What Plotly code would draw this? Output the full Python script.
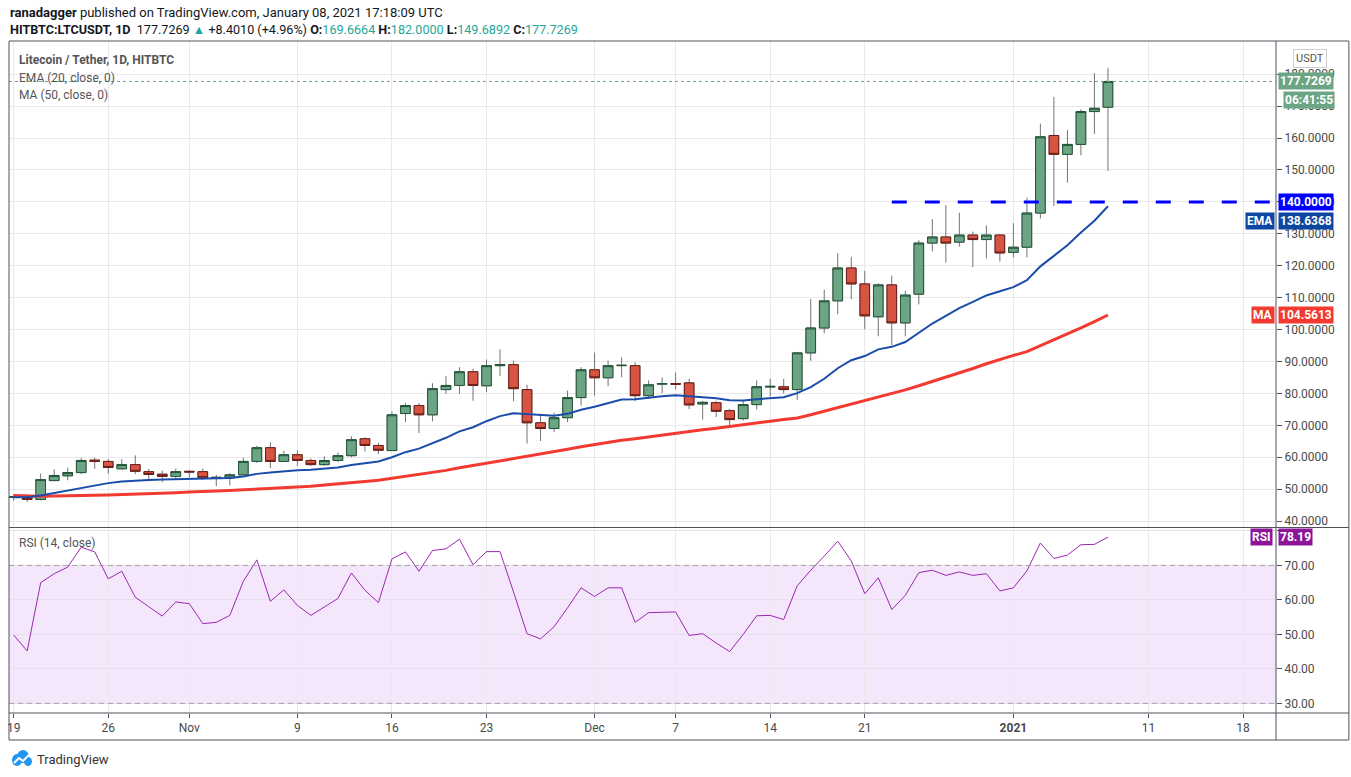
import plotly.graph_objects as go
import pandas as pd

# daily LTC/USDT candles, Oct 19 2020 -> Jan 8 2021
start_day = "2020-10-19"
n_days = 82
dates = pd.date_range(start_day, periods=n_days, freq="D")

opens = [47.5, 47.8, 46.8, 52.7, 54.2, 55.2, 59.1, 58.7, 56.4, 57.7,
         55.5, 54.7, 54.0, 55.6, 55.5, 53.6, 53.6, 54.5, 58.7, 63.0,
         58.7, 60.8, 59.0, 57.7, 59.0, 60.5, 65.8, 63.7, 62.1, 73.7,
         76.2, 73.3, 81.2, 82.5, 86.8, 82.4, 88.7, 89.0, 81.2, 70.8,
         69.0, 72.4, 78.7, 87.4, 84.9, 88.7, 88.7, 79.3, 82.9, 83.1,
         83.3, 76.7, 77.1, 74.6, 72.1, 76.5, 82.0, 82.1, 81.2, 92.7,
         100.5, 109.0, 119.3, 114.3, 104.0, 114.0, 102.1, 111.1, 127.1, 129.0,
         127.4, 129.6, 128.2, 129.6, 124.2, 125.8, 136.5, 160.8, 154.9, 158.0,
         168.3, 169.6664]
highs = [48.3, 48.4, 54.9, 56.2, 56.8, 59.8, 59.9, 59.5, 59.4, 60.6,
         56.4, 55.8, 56.5, 55.9, 56.5, 54.5, 55.0, 59.9, 63.6, 64.7,
         62.0, 62.1, 59.6, 60.3, 61.5, 66.6, 66.3, 64.5, 74.4, 77.0,
         77.0, 83.2, 85.4, 88.2, 87.7, 90.6, 93.8, 90.3, 82.7, 73.4,
         74.0, 80.9, 88.2, 92.8, 90.3, 91.3, 89.7, 84.1, 85.0, 86.6,
         84.6, 77.7, 77.7, 75.1, 77.7, 84.1, 84.6, 84.6, 93.0, 109.6,
         112.5, 123.9, 122.8, 118.4, 114.5, 116.9, 112.2, 128.0, 134.6, 139.0,
         136.6, 130.7, 132.6, 129.8, 133.3, 141.3, 164.5, 172.9, 162.5, 169.0,
         180.3, 182.0]
lows = [46.4, 46.0, 46.5, 52.5, 52.8, 54.7, 56.4, 54.8, 56.0, 54.7,
        52.5, 52.2, 53.5, 53.7, 53.0, 51.0, 51.2, 54.3, 58.2, 56.6,
        58.5, 57.3, 57.3, 57.3, 58.5, 60.0, 61.8, 61.0, 62.0, 71.0,
        67.6, 71.3, 79.9, 79.9, 77.7, 80.4, 85.4, 77.6, 64.3, 65.1,
        67.9, 71.0, 76.2, 79.3, 82.3, 85.1, 77.6, 78.3, 80.1, 81.3,
        75.1, 71.8, 72.6, 69.3, 71.5, 75.0, 79.0, 80.0, 78.0, 90.2,
        98.8, 104.8, 109.5, 100.1, 97.9, 95.0, 97.9, 107.9, 124.5, 121.0,
        126.0, 119.5, 122.3, 121.3, 122.6, 122.6, 134.8, 138.7, 146.0, 154.6,
        161.3, 149.6892]
closes = [47.6, 46.8, 53.0, 54.3, 55.2, 59.0, 58.7, 56.8, 57.7, 55.6,
          54.6, 54.0, 55.5, 55.4, 53.6, 53.7, 54.5, 58.7, 63.0, 58.7,
          60.8, 59.0, 57.7, 59.0, 60.5, 65.5, 63.7, 62.2, 73.3, 76.2,
          73.3, 81.5, 82.5, 86.8, 82.5, 88.7, 89.0, 81.5, 70.8, 69.0,
          72.4, 78.7, 87.4, 84.9, 88.7, 88.8, 79.3, 82.7, 83.1, 82.9,
          76.4, 77.2, 74.4, 71.8, 76.5, 82.1, 82.2, 81.2, 92.7, 100.5,
          109.0, 119.3, 114.3, 104.3, 114.0, 102.1, 110.8, 127.1, 129.0, 127.1,
          129.6, 128.2, 129.6, 124.0, 125.8, 136.5, 160.4, 154.9, 158.0, 168.3,
          169.3259, 177.7269]

ema20 = [47.5, 47.5, 48.0, 48.8, 49.5, 50.5, 51.3, 51.9, 52.4, 52.7,
         52.9, 53.0, 53.1, 53.2, 53.3, 53.4, 53.5, 54.0, 54.8, 55.2,
         55.6, 55.9, 56.1, 56.4, 56.8, 57.6, 58.2, 58.7, 60.0, 61.6,
         62.7, 64.4, 66.1, 68.1, 69.4, 71.3, 72.9, 73.8, 73.5, 73.1,
         73.0, 73.6, 74.9, 75.8, 77.0, 78.1, 78.2, 78.7, 79.1, 79.4,
         79.1, 78.9, 78.5, 77.9, 77.8, 78.2, 78.5, 78.8, 80.1, 82.0,
         84.6, 87.9, 90.4, 91.7, 93.8, 94.6, 96.1, 99.0, 101.9, 104.3,
         106.7, 108.7, 110.7, 112.0, 113.3, 115.5, 119.8, 123.1, 126.4, 130.4,
         134.1, 138.6368]
ma50 = [48.0, 47.8, 47.8, 47.9, 47.9, 48.0, 48.1, 48.2, 48.3, 48.5,
        48.6, 48.8, 48.9, 49.1, 49.2, 49.4, 49.6, 49.8, 50.0, 50.2,
        50.4, 50.6, 50.9, 51.3, 51.6, 52.0, 52.4, 52.8, 53.4, 54.0,
        54.6, 55.2, 55.9, 56.7, 57.4, 58.2, 58.9, 59.6, 60.4, 61.1,
        61.8, 62.5, 63.3, 64.0, 64.7, 65.3, 65.8, 66.4, 66.9, 67.5,
        68.0, 68.6, 69.1, 69.7, 70.2, 70.7, 71.3, 71.8, 72.3, 73.3,
        74.4, 75.5, 76.6, 77.6, 78.7, 79.9, 81.1, 82.4, 83.7, 85.0,
        86.4, 87.8, 89.3, 90.7, 91.9, 93.1, 94.9, 96.7, 98.6, 100.5,
        102.5, 104.5613]
rsi14 = [49.8, 45.2, 65.0, 67.6, 69.5, 75.3, 73.9, 66.1, 68.3, 60.8,
         58.0, 55.3, 59.4, 58.9, 53.1, 53.5, 55.5, 65.4, 71.6, 59.6,
         62.9, 58.4, 55.5, 58.0, 60.4, 67.8, 62.8, 59.2, 71.9, 73.9,
         68.3, 74.3, 74.8, 77.6, 70.2, 74.0, 74.0, 62.3, 50.2, 48.7,
         52.2, 57.7, 63.5, 61.0, 63.5, 63.5, 53.5, 56.3, 56.5, 56.5,
         49.7, 50.2, 47.5, 45.0, 50.0, 55.4, 55.5, 54.3, 64.1, 68.6,
         72.7, 77.0, 71.3, 61.8, 66.4, 57.2, 61.3, 67.9, 68.6, 67.1,
         68.1, 67.1, 67.6, 62.6, 63.5, 68.4, 76.5, 72.0, 73.0, 76.0,
         76.1, 78.19]

tick_dates = ["2020-10-19", "2020-10-26", "2020-11-01", "2020-11-09", "2020-11-16",
              "2020-11-23", "2020-12-01", "2020-12-07", "2020-12-14", "2020-12-21",
              "2021-01-01", "2021-01-11", "2021-01-18"]
tick_text = ["19", "26", "Nov", "9", "16", "23", "Dec", "7", "14", "21",
             "<b>2021</b>", "11", "18"]
price_ticks = [40, 50, 60, 70, 80, 90, 100, 110, 120, 130, 140, 150, 160, 170, 180]
rsi_ticks = [30, 40, 50, 60, 70, 80]
rsi_text = ["30.00", "40.00", "50.00", "60.00", "70.00", ""]

level_price = 140.0
level_start = "2020-12-23"
level_end = "2021-01-20"
last_ema = ema20[-1]
last_ma = ma50[-1]
last_rsi = rsi14[-1]
last_close = closes[-1]

UP, UP_EDGE = "#6ba583", "#225437"
DN, DN_EDGE = "#d75442", "#6b1d15"
WICK = "#737375"
TXT = "#4a4a4a"


def px(x):  # pixel -> paper
    return (x - 7) / 1269


def py(y):
    return (713 - y) / 672


body_top = [max(o, c) for o, c in zip(opens, closes)]
body_bot = [min(o, c) for o, c in zip(opens, closes)]

fig = go.Figure()

# wicks (gray) then bodies with dark edges on top
fig.add_trace(go.Candlestick(
    x=dates, open=opens, high=highs, low=lows, close=closes,
    increasing=dict(line=dict(color=WICK, width=1), fillcolor="rgba(0,0,0,0)"),
    decreasing=dict(line=dict(color=WICK, width=1), fillcolor="rgba(0,0,0,0)"),
    xaxis="x", yaxis="y", showlegend=False, hoverinfo="skip"))
fig.add_trace(go.Candlestick(
    x=dates, open=opens, high=body_top, low=body_bot, close=closes,
    increasing=dict(line=dict(color=UP_EDGE, width=1), fillcolor=UP),
    decreasing=dict(line=dict(color=DN_EDGE, width=1), fillcolor=DN),
    xaxis="x", yaxis="y", showlegend=False))

fig.add_trace(go.Scatter(x=dates, y=ma50, mode="lines", line=dict(color="#f23a30", width=3),
                         xaxis="x", yaxis="y", showlegend=False))
fig.add_trace(go.Scatter(x=dates, y=ema20, mode="lines", line=dict(color="#1a4caa", width=2),
                         xaxis="x", yaxis="y", showlegend=False))
fig.add_trace(go.Scatter(x=dates, y=rsi14, mode="lines", line=dict(color="#9c27b0", width=1),
                         xaxis="x", yaxis="y2", showlegend=False))

x_start = pd.Timestamp(start_day) - pd.Timedelta(hours=8.3)
x_end = pd.Timestamp(start_day) + pd.Timedelta(hours=93.44 * 24)

shapes = [
    # RSI band + 70/30 dashed
    dict(type="rect", xref="paper", yref="y2", x0=0, x1=1, y0=30, y1=70,
         fillcolor="rgba(156,39,220,0.11)", line_width=0, layer="below"),
    dict(type="line", xref="paper", yref="y2", x0=0, x1=1, y0=70, y1=70,
         line=dict(color="#a3a3a8", width=1, dash="5px,4px")),
    dict(type="line", xref="paper", yref="y2", x0=0, x1=1, y0=30, y1=30,
         line=dict(color="#a3a3a8", width=1, dash="5px,4px")),
    # last price dotted line
    dict(type="line", xref="paper", yref="y", x0=0, x1=1, y0=last_close, y1=last_close,
         line=dict(color=UP, width=1, dash="dot")),
    # 140 level
    dict(type="line", xref="x", yref="y", x0=level_start, x1=level_end,
         y0=level_price, y1=level_price,
         line=dict(color="#0000ff", width=3, dash="15px,18px")),
    # frame
    dict(type="rect", xref="paper", yref="paper", x0=px(7), x1=px(1349), y0=py(740), y1=py(41),
         line=dict(color="#50535e", width=1)),
    dict(type="line", xref="paper", yref="paper", x0=px(7), x1=px(1349), y0=py(527.5), y1=py(527.5),
         line=dict(color="#50535e", width=1)),
    dict(type="line", xref="paper", yref="paper", x0=px(7), x1=px(1349), y0=py(713), y1=py(713),
         line=dict(color="#50535e", width=1)),
    dict(type="line", xref="paper", yref="paper", x0=px(1276), x1=px(1276), y0=py(740), y1=py(41),
         line=dict(color="#50535e", width=1)),
    # TradingView logo
    dict(type="circle", xref="paper", yref="paper", x0=px(10), x1=px(20), y0=py(766), y1=py(754),
         fillcolor="#2196f3", line_width=0),
    dict(type="circle", xref="paper", yref="paper", x0=px(15), x1=px(27), y0=py(763), y1=py(750),
         fillcolor="#2196f3", line_width=0),
    dict(type="circle", xref="paper", yref="paper", x0=px(22), x1=px(30), y0=py(766), y1=py(757),
         fillcolor="#2196f3", line_width=0),
    dict(type="path", xref="paper", yref="paper",
         path="M {} {} L {} {} L {} {} L {} {}".format(px(12), py(763), px(17), py(758),
                                                     px(21), py(761), px(27), py(755)),
         line=dict(color="white", width=2)),
]

teal = "#26a69a"
header2 = ("<b>HITBTC:LTCUSDT, 1D</b>  177.7269 <span style='color:%s'>▲</span> +8.4010 (+4.96%%) "
           "<b>O:</b><span style='color:%s'>169.6664</span> <b>H:</b><span style='color:%s'>182.0000</span> "
           "<b>L:</b><span style='color:%s'>149.6892</span> <b>C:</b><span style='color:%s'>177.7269</span>"
           % (teal, teal, teal, teal, teal))


def box(text, x, y, bg, yref="paper", xanchor="left", size=12):
    return dict(text=text, x=x, y=y, xref="paper", yref=yref, xanchor=xanchor, yanchor="middle",
                showarrow=False, bgcolor=bg, borderpad=1,
                font=dict(color="white", size=size))


annotations = [
    dict(text="<b>ranadagger</b> published on TradingView.com, January 08, 2021 17:18:09 UTC",
         x=px(6), y=py(12), xref="paper", yref="paper", xanchor="left", yanchor="middle",
         showarrow=False, font=dict(size=13, color="#131722")),
    dict(text=header2, x=px(6), y=py(29), xref="paper", yref="paper", xanchor="left",
         yanchor="middle", showarrow=False, font=dict(size=12.6, color="#131722")),
    dict(text="<b>Litecoin / Tether, 1D, HITBTC</b>", x=px(15), y=py(60), xref="paper", yref="paper",
         xanchor="left", yanchor="middle", showarrow=False, font=dict(size=12, color="#555")),
    dict(text="EMA (20, close, 0)", x=px(15), y=py(78), xref="paper", yref="paper",
         xanchor="left", yanchor="middle", showarrow=False, font=dict(size=12, color="#555")),
    dict(text="MA (50, close, 0)", x=px(15), y=py(95), xref="paper", yref="paper",
         xanchor="left", yanchor="middle", showarrow=False, font=dict(size=12, color="#555")),
    dict(text="RSI (14, close)", x=px(15), y=py(543), xref="paper", yref="paper",
         xanchor="left", yanchor="middle", showarrow=False, font=dict(size=12, color="#555")),
    dict(text="USDT", x=px(1310), y=py(58), xref="paper", yref="paper", xanchor="center",
         yanchor="middle", showarrow=False, bgcolor="white", bordercolor="#d0d0d0", borderwidth=1,
         borderpad=2, font=dict(size=11, color="#555")),
    dict(text="TradingView", x=px(33), y=py(759), xref="paper", yref="paper", xanchor="left",
         yanchor="middle", showarrow=False, font=dict(size=13, color="#333")),
    box("<b>%.4f</b>" % last_close, px(1278), last_close, UP, yref="y"),
    box("<b>06:41:55</b>", px(1283), py(100.5), UP),
    box("<b>%.4f</b>" % level_price, px(1278), level_price, "#0000ff", yref="y"),
    box("<b>EMA</b>", px(1275), py(220.5), "#0d47a1", xanchor="right"),
    box("<b>%.4f</b>" % last_ema, px(1278), py(220.5), "#0d47a1"),
    box("<b>MA</b>", px(1275), last_ma, "#f23a30", yref="y", xanchor="right"),
    box("<b>%.4f</b>" % last_ma, px(1278), last_ma, "#f23a30", yref="y"),
    box("<b>RSI</b>", px(1273), last_rsi, "#8e1599", yref="y2", xanchor="right"),
    box("<b>%.2f</b>" % last_rsi, px(1278), last_rsi, "#8e1599", yref="y2"),
]

fig.update_layout(
    width=1351, height=777,
    margin=dict(l=7, r=75, t=41, b=64),
    paper_bgcolor="white", plot_bgcolor="white",
    font=dict(family="Roboto, Noto Sans, sans-serif", color=TXT, size=12),
    boxgap=0.25, boxgroupgap=0.05, boxmode="overlay",
    showlegend=False,
    xaxis=dict(type="date", range=[x_start, x_end], anchor="y2",
               tickvals=tick_dates, ticktext=tick_text, showgrid=True, gridcolor="#e9e9ec",
               ticks="outside", ticklen=4, tickcolor="#50535e", showline=False,
               rangeslider=dict(visible=False), tickfont=dict(size=12, color=TXT), zeroline=False),
    yaxis=dict(domain=[py(527.5), 1], range=[38.0, 190.4], side="right", anchor="x",
               tickvals=price_ticks, tickformat=".4f", showgrid=True, gridcolor="#e9e9ec",
               ticks="outside", ticklen=5, tickcolor="#50535e", showline=False, zeroline=False,
               tickfont=dict(size=12, color=TXT)),
    yaxis2=dict(domain=[0, py(528.5)], range=[27.2, 80.7], side="right", anchor="x",
                tickvals=rsi_ticks, ticktext=rsi_text, showgrid=True, gridcolor="#e6e0ea",
                ticks="outside", ticklen=5, tickcolor="#50535e", showline=False, zeroline=False,
                tickfont=dict(size=12, color=TXT)),
    shapes=shapes,
    annotations=annotations,
)

fig.write_html("out.html", config=dict(displayModeBar=False),
               post_script="document.body.style.margin='0px';")
